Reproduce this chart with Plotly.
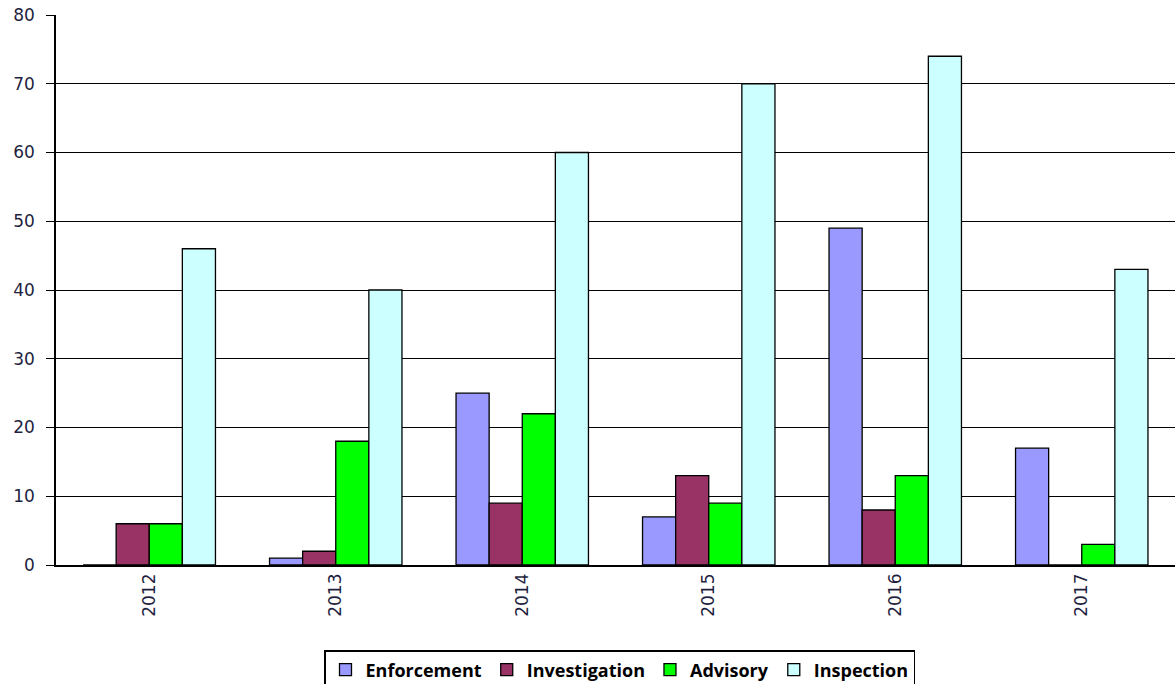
import plotly.graph_objects as go

years = ["2012", "2013", "2014", "2015", "2016", "2017"]
enforcement = [0, 1, 25, 7, 49, 17]
investigation = [6, 2, 9, 13, 8, 0]
advisory = [6, 18, 22, 9, 13, 3]
inspection = [46, 40, 60, 70, 74, 43]

series = [
    ("Enforcement", enforcement, "#9999FF"),
    ("Investigation", investigation, "#993366"),
    ("Advisory", advisory, "#00FF00"),
    ("Inspection", inspection, "#CCFFFF"),
]

fig = go.Figure()
for name, vals, col in series:
    fig.add_trace(go.Bar(
        x=years, y=vals, name=name,
        marker=dict(color=col, line=dict(color="#000000", width=1.3)),
    ))

fig.update_layout(
    width=1175, height=684,
    margin=dict(l=56, r=0, t=15, b=119, autoexpand=False),
    paper_bgcolor="white", plot_bgcolor="white",
    barmode="group", bargap=0.29, bargroupgap=0,
    font=dict(family="DejaVu Sans", size=17, color="#1f1f3f"),
    showlegend=True,
    legend=dict(
        orientation="h", xref="container", yref="container",
        x=324 / 1175, xanchor="left", y=1 - 650 / 684, yanchor="top",
        bordercolor="#000000", borderwidth=1.5, bgcolor="white",
        font=dict(family="Open Sans", size=18, color="#000000", weight="bold"),
        traceorder="normal", itemwidth=30, tracegroupgap=0,
    ),
    xaxis=dict(
        type="category", tickangle=-90, showgrid=False,
        showline=True, linecolor="#000000", linewidth=1.5,
        ticks="", tickfont=dict(family="DejaVu Sans", size=17, color="#1f1f3f"),
        automargin=False,
    ),
    yaxis=dict(
        range=[0, 80], dtick=10, showgrid=True, gridcolor="#000000", gridwidth=1.3,
        showline=True, linecolor="#000000", linewidth=1.5,
        ticks="outside", ticklen=8, tickcolor="#000000",
        zeroline=False, ticklabelstandoff=8,
        tickfont=dict(family="DejaVu Sans", size=17, color="#1f1f3f"),
        automargin=False,
    ),
)

fig.write_html("out.html")
